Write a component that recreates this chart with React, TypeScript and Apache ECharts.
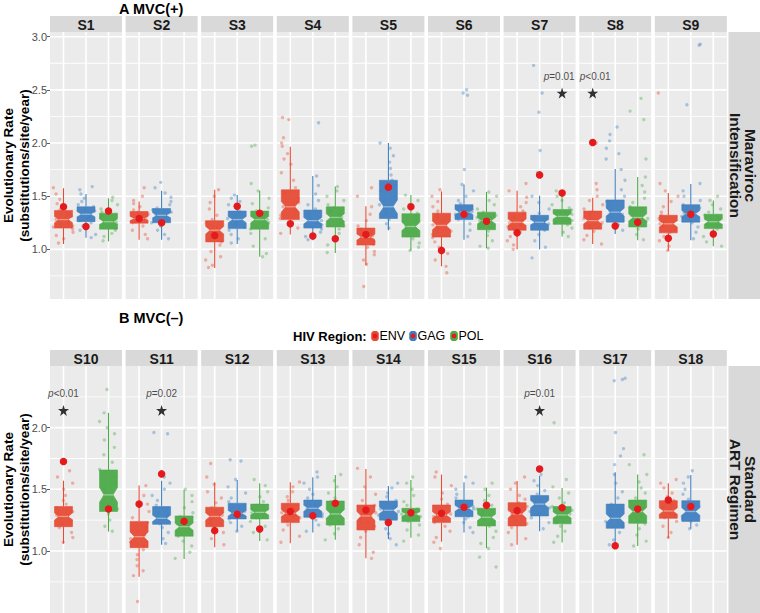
import React, { useEffect, useRef } from "react";
import * as echarts from "echarts";

const SUBJECTS = ["S1","S2","S3","S4","S5","S6","S7","S8","S9","S10","S11","S12","S13","S14","S15","S16","S17","S18"];
const REGIONS = ["ENV", "GAG", "POL"];
const ROW_TITLES = ["A MVC(+)", "B MVC(\u2013)"];
const ROW_STRIPS = ["Maraviroc\nIntensification", "Standard\nART Regimen"];
const Y_TITLE = "Evolutionary Rate\n(substitutions/site/year)";
const LEGEND_TITLE = "HIV Region:";
const TICKS_A = [1.0, 1.5, 2.0, 2.5, 3.0];
const MINOR_A = [0.75, 1.25, 1.75, 2.25, 2.75];
const TICKS_B = [1.0, 1.5, 2.0];
const MINOR_B = [0.75, 1.25, 1.75, 2.25];
const SAMPLE_N = 80;

// box stats: [lower whisker, Q1, median, Q3, upper whisker]
const BOX_ENV = [
  [1.05, 1.20, 1.28, 1.366, 1.575], [1.09, 1.246, 1.29, 1.356, 1.45], [0.825, 1.07, 1.18, 1.27, 1.56],
  [1.14, 1.28, 1.40, 1.56, 1.965], [0.85, 1.04, 1.115, 1.20, 1.405], [0.84, 1.115, 1.225, 1.34, 1.545],
  [1.0, 1.18, 1.255, 1.35, 1.55], [1.05, 1.19, 1.27, 1.36, 1.485], [0.99, 1.155, 1.24, 1.32, 1.53],
  [1.06, 1.197, 1.28, 1.36, 1.57], [0.79, 1.027, 1.116, 1.24, 1.53], [1.03, 1.197, 1.28, 1.355, 1.557],
  [1.062, 1.23, 1.306, 1.387, 1.557], [0.94, 1.17, 1.284, 1.373, 1.665], [1.075, 1.23, 1.292, 1.373, 1.62],
  [1.05, 1.203, 1.30, 1.392, 1.568], null, [1.103, 1.265, 1.324, 1.408, 1.55],
];
const BOX_GAG = [
  [1.11, 1.26, 1.33, 1.40, 1.52], [1.09, 1.25, 1.32, 1.384, 1.55], [1.05, 1.195, 1.28, 1.36, 1.51],
  [1.085, 1.20, 1.27, 1.37, 1.69], [1.18, 1.29, 1.40, 1.65, 2.0], [1.09, 1.28, 1.35, 1.42, 1.61],
  [1.0, 1.18, 1.255, 1.32, 1.505], [1.145, 1.255, 1.35, 1.465, 1.755], [1.085, 1.255, 1.335, 1.42, 1.615],
  null, [1.05, 1.216, 1.265, 1.36, 1.57], [1.157, 1.26, 1.306, 1.387, 1.576],
  [1.15, 1.273, 1.346, 1.413, 1.598], [1.097, 1.25, 1.33, 1.405, 1.527], [1.15, 1.278, 1.346, 1.413, 1.557],
  [1.16, 1.284, 1.38, 1.45, 1.61], [1.05, 1.184, 1.265, 1.38, 1.638], [1.18, 1.24, 1.32, 1.408, 1.616],
];
const BOX_POL = [
  [1.075, 1.19, 1.26, 1.34, 1.48], null, [0.93, 1.19, 1.28, 1.36, 1.55],
  [0.965, 1.21, 1.30, 1.40, 1.59], [0.99, 1.115, 1.215, 1.335, 1.51], [1.01, 1.185, 1.27, 1.35, 1.54],
  [1.12, 1.235, 1.31, 1.375, 1.505], [1.085, 1.21, 1.30, 1.40, 1.68], [1.03, 1.195, 1.26, 1.33, 1.46],
  [1.157, 1.32, 1.455, 1.657, 2.12], [0.935, 1.12, 1.197, 1.284, 1.495], [1.08, 1.26, 1.313, 1.38, 1.55],
  [1.09, 1.21, 1.30, 1.405, 1.616], [1.108, 1.238, 1.30, 1.346, 1.576], [1.022, 1.203, 1.273, 1.346, 1.514],
  [1.068, 1.22, 1.292, 1.36, 1.51], [1.04, 1.224, 1.32, 1.413, 1.62], null,
];

// red dots
const DOT_ENV = [1.40, 1.29, 1.13, 1.24, 1.14, 0.99, 1.155, 2.005, 1.105, 1.725, 1.38, 1.165, 1.32, 1.332, 1.306, 1.327, null, 1.413];
const DOT_GAG = [1.215, 1.25, 1.405, 1.125, 1.585, 1.33, 1.70, 1.22, 1.33, null, 1.625, 1.297, 1.286, 1.23, 1.354, 1.665, 1.043, 1.36];
const DOT_POL = [1.36, null, 1.34, 1.10, 1.40, 1.265, 1.53, 1.255, 1.145, 1.34, 1.24, 1.178, 1.387, 1.31, 1.37, 1.35, 1.34, null];

// individual (jittered) observations
const PTS_ENV = [
  [1.58,1.52,1.47,1.43,1.40,1.37,1.35,1.33,1.31,1.29,1.28,1.26,1.24,1.22,1.21,1.19,1.16,1.13,1.10,1.06],
  [1.58,1.50,1.46,1.43,1.40,1.37,1.35,1.33,1.31,1.29,1.28,1.26,1.25,1.22,1.18,1.14,1.10],
  [1.56,1.50,1.44,1.38,1.32,1.28,1.25,1.22,1.20,1.18,1.15,1.12,1.10,1.07,1.04,0.98,0.93,0.90,0.85,0.83],
  [2.24,2.22,2.05,2.00,1.97,1.90,1.85,1.80,1.72,1.65,1.58,1.53,1.48,1.44,1.40,1.36,1.32,1.29,1.25,1.20,1.15],
  [1.58,1.50,1.40,1.33,1.27,1.22,1.19,1.16,1.13,1.11,1.09,1.07,1.05,1.02,0.98,0.95,0.90,0.86,0.65],
  [1.56,1.50,1.45,1.40,1.36,1.33,1.30,1.26,1.23,1.20,1.17,1.14,1.11,1.07,1.02,0.96,0.90,0.84,0.78],
  [1.62,1.55,1.49,1.44,1.40,1.36,1.33,1.30,1.27,1.25,1.23,1.21,1.19,1.16,1.12,1.08,1.04,1.00],
  [2.00,1.62,1.56,1.50,1.46,1.42,1.38,1.35,1.32,1.29,1.27,1.25,1.22,1.20,1.17,1.13,1.09,1.05],
  [2.47,1.62,1.55,1.50,1.45,1.40,1.35,1.32,1.29,1.26,1.24,1.22,1.19,1.16,1.12,1.08,1.03,0.99],
  [1.65,1.60,1.55,1.50,1.45,1.41,1.38,1.35,1.32,1.29,1.27,1.25,1.22,1.19,1.15,1.11,1.07],
  [1.53,1.45,1.38,1.32,1.27,1.23,1.19,1.16,1.13,1.10,1.07,1.04,1.01,0.97,0.93,0.88,0.84,0.80,0.59],
  [1.71,1.60,1.54,1.48,1.43,1.39,1.35,1.32,1.29,1.27,1.25,1.22,1.19,1.15,1.10,1.05],
  [1.56,1.52,1.48,1.44,1.41,1.38,1.35,1.33,1.31,1.29,1.27,1.24,1.21,1.17,1.12,1.07],
  [1.67,1.60,1.52,1.46,1.41,1.37,1.34,1.31,1.28,1.26,1.23,1.20,1.16,1.11,1.05,0.99,0.94],
  [1.64,1.60,1.53,1.47,1.42,1.38,1.35,1.32,1.30,1.28,1.26,1.23,1.20,1.16,1.11,1.07,1.02],
  [1.60,1.55,1.50,1.45,1.42,1.39,1.36,1.33,1.30,1.28,1.25,1.22,1.19,1.15,1.10,1.05],
  [],
  [1.58,1.55,1.51,1.47,1.44,1.41,1.38,1.35,1.33,1.31,1.29,1.27,1.24,1.20,1.15,1.11],
];
const PTS_GAG = [
  [1.59,1.56,1.52,1.48,1.45,1.42,1.40,1.38,1.36,1.34,1.33,1.31,1.29,1.27,1.25,1.22,1.18,1.14,1.11],
  [1.63,1.58,1.53,1.49,1.45,1.42,1.39,1.37,1.35,1.33,1.31,1.29,1.27,1.25,1.22,1.18,1.14,1.10],
  [1.51,1.48,1.45,1.42,1.39,1.36,1.34,1.31,1.29,1.27,1.25,1.23,1.21,1.18,1.14,1.10,1.06],
  [2.19,1.69,1.60,1.52,1.46,1.42,1.38,1.35,1.32,1.29,1.27,1.25,1.23,1.21,1.19,1.16,1.12,1.09],
  [2.00,1.95,1.88,1.82,1.76,1.70,1.65,1.60,1.55,1.50,1.46,1.42,1.38,1.34,1.31,1.28,1.24,1.20],
  [2.50,2.47,2.45,1.75,1.61,1.55,1.50,1.46,1.43,1.40,1.37,1.35,1.33,1.31,1.28,1.24,1.18,1.12],
  [2.73,2.47,2.29,1.93,1.72,1.50,1.44,1.38,1.34,1.31,1.28,1.26,1.24,1.21,1.18,1.14,1.08,1.02,0.92],
  [2.15,2.08,2.02,1.95,1.90,1.85,1.75,1.65,1.56,1.50,1.45,1.40,1.36,1.33,1.30,1.27,1.23,1.18],
  [2.93,2.92,2.36,1.62,1.55,1.50,1.46,1.42,1.39,1.36,1.34,1.31,1.28,1.25,1.21,1.16,1.10],
  [],
  [1.96,1.95,1.60,1.55,1.50,1.45,1.41,1.37,1.34,1.31,1.28,1.26,1.24,1.22,1.19,1.15,1.10,1.06],
  [1.74,1.73,1.58,1.52,1.47,1.43,1.40,1.37,1.34,1.32,1.30,1.28,1.26,1.23,1.20,1.16],
  [1.64,1.60,1.55,1.50,1.46,1.43,1.40,1.38,1.36,1.34,1.32,1.30,1.28,1.25,1.21,1.16],
  [1.55,1.51,1.47,1.44,1.41,1.38,1.36,1.34,1.32,1.29,1.27,1.25,1.22,1.18,1.14,1.10,1.05],
  [1.60,1.55,1.50,1.46,1.43,1.40,1.38,1.36,1.34,1.32,1.30,1.28,1.26,1.23,1.19,1.15],
  [1.66,1.62,1.57,1.53,1.49,1.46,1.43,1.41,1.39,1.37,1.35,1.32,1.30,1.27,1.23,1.18],
  [2.40,2.39,2.38,1.96,1.83,1.77,1.70,1.62,1.55,1.48,1.43,1.38,1.34,1.30,1.27,1.24,1.20,1.15,1.09,1.05],
  [1.65,1.60,1.55,1.50,1.46,1.42,1.39,1.36,1.34,1.32,1.30,1.28,1.26,1.24,1.21,1.18],
];
const PTS_POL = [
  [1.49,1.46,1.42,1.38,1.35,1.32,1.30,1.28,1.26,1.24,1.22,1.20,1.18,1.15,1.12,1.08],
  [],
  [1.98,1.97,1.62,1.55,1.48,1.43,1.39,1.36,1.33,1.30,1.28,1.25,1.22,1.19,1.15,1.10,1.03,0.96,0.93],
  [1.59,1.55,1.50,1.46,1.42,1.39,1.36,1.33,1.30,1.28,1.25,1.22,1.19,1.15,1.10,1.04,0.97],
  [1.51,1.46,1.42,1.38,1.34,1.31,1.28,1.25,1.22,1.19,1.16,1.13,1.10,1.06,1.02,0.99],
  [1.54,1.50,1.46,1.42,1.38,1.35,1.32,1.30,1.27,1.25,1.22,1.20,1.17,1.13,1.08,1.03,1.01],
  [1.55,1.50,1.46,1.42,1.39,1.37,1.35,1.33,1.31,1.29,1.27,1.25,1.23,1.20,1.16,1.12],
  [2.42,2.30,2.22,1.85,1.68,1.60,1.54,1.48,1.44,1.40,1.36,1.32,1.29,1.26,1.23,1.19,1.14,1.09],
  [1.50,1.46,1.42,1.38,1.35,1.32,1.30,1.28,1.26,1.24,1.22,1.19,1.16,1.12,1.07,1.03],
  [2.31,2.12,2.05,2.00,1.95,1.90,1.84,1.78,1.72,1.66,1.60,1.55,1.50,1.46,1.42,1.38,1.34,1.30,1.25,1.20,1.16],
  [1.50,1.45,1.40,1.35,1.31,1.28,1.25,1.22,1.20,1.18,1.15,1.12,1.08,1.04,0.99,0.94],
  [1.58,1.53,1.48,1.44,1.40,1.37,1.35,1.33,1.31,1.29,1.27,1.24,1.20,1.15,1.09],
  [1.62,1.57,1.52,1.47,1.43,1.40,1.36,1.33,1.30,1.27,1.24,1.21,1.18,1.14,1.09],
  [1.60,1.55,1.50,1.45,1.40,1.37,1.34,1.32,1.30,1.28,1.26,1.24,1.21,1.17,1.13,1.08],
  [1.55,1.50,1.45,1.41,1.37,1.34,1.31,1.28,1.26,1.23,1.20,1.16,1.11,1.06,1.02,0.95,0.87],
  [2.04,1.58,1.52,1.47,1.43,1.39,1.36,1.33,1.30,1.28,1.25,1.23,1.20,1.16,1.12,1.07],
  [1.78,1.70,1.62,1.56,1.51,1.47,1.43,1.40,1.37,1.34,1.31,1.28,1.25,1.22,1.18,1.13,1.08,1.04],
  [],
];

// significance annotations
const SIG_SUBJECT = ["S7", "S8", "S10", "S11", "S16"];
const SIG_REGION = ["POL", "ENV", "ENV", "GAG", "GAG"];
const SIG_Y = [2.47, 2.47, 2.14, 2.14, 2.14];
const SIG_P = ["p=0.01", "p<0.01", "p<0.01", "p=0.02", "p=0.01"];

const COLORS = ["#E64B35", "#3F7FC0", "#4DAA4A"];
const MEDIAN_COLORS = ["#F39A86", "#93B8E0", "#97D093"];
const DOT_COLOR = "#E41A1C";
const PANEL_BG = "#EBEBEB";
const FONT = "'Liberation Sans', Arial, Helvetica, sans-serif";
// small horizontal nudges of the p-value labels so adjacent ones don't collide
const LABEL_NUDGE: Record<string, number> = { S7: -3, S8: 2.5 };

const PANEL_LEFT = 50;
const PANEL_W = 72;
const PANEL_STEP = 75.6;
const X_MIN = 0.4;
const X_MAX = 3.6;
const X_POS = [1, 2, 3];
const MAJOR_W = 1.6;
const MINOR_W = 0.8;
const ROWS = [
  { top: 32, height: 267, yMin: 0.533, yMax: 3.044, ticks: TICKS_A, minor: MINOR_A, stripTop: 16, titleY: 9 },
  { top: 366, height: 247, yMin: 0.497, yMax: 2.5, ticks: TICKS_B, minor: MINOR_B, stripTop: 350, titleY: 318 },
];
const STAR_PATH = "path://M50,0 L61.2,34.5 L97.6,34.5 L68.2,55.9 L79.4,90.5 L50,69.1 L20.6,90.5 L31.8,55.9 L2.4,34.5 L38.8,34.5 Z";

const BOXES = [BOX_ENV, BOX_GAG, BOX_POL];
const DOTS = [DOT_ENV, DOT_GAG, DOT_POL];
const PTS = [PTS_ENV, PTS_GAG, PTS_POL];

function jitterFrac(k: number, r: number, i: number) {
  const s = Math.sin(k * 91.73 + r * 17.31 + i * 5.17) * 43758.5453;
  return s - Math.floor(s);
}

function buildOption() {
  const grid: any[] = [];
  const xAxis: any[] = [];
  const yAxis: any[] = [];
  const series: any[] = [];
  const graphic: any[] = [];

  SUBJECTS.forEach((subj, i) => {
    const row = i < 9 ? 0 : 1;
    const col = i % 9;
    const R = ROWS[row];
    const left = PANEL_LEFT + col * PANEL_STEP;
    grid.push({ left, top: R.top, width: PANEL_W, height: R.height, show: false });
    xAxis.push({ gridIndex: i, type: "value", min: X_MIN, max: X_MAX, show: false });
    yAxis.push({
      gridIndex: i, type: "value", min: R.yMin, max: R.yMax,
      splitLine: { show: false }, axisLine: { show: false },
      axisTick: { show: col === 0, customValues: R.ticks, length: 3, lineStyle: { color: "#333333", width: 0.8 } },
      axisLabel: { show: col === 0, customValues: R.ticks, formatter: (v: number) => v.toFixed(1), color: "#4D4D4D", fontSize: 11, margin: 3, fontFamily: FONT },
    });

    // panel background with its grid lines, positioned through the panel's scales
    series.push({
      type: "custom", xAxisIndex: i, yAxisIndex: i, z: 0.5, silent: true, clip: false,
      data: [[X_MIN, R.yMax, X_MAX, R.yMin]],
      renderItem: (params: any, api: any) => {
        const a = api.coord([api.value(0), api.value(1)]);
        const b = api.coord([api.value(2), api.value(3)]);
        const children: any[] = [
          { type: "rect", shape: { x: a[0], y: a[1], width: b[0] - a[0], height: b[1] - a[1] }, style: { fill: PANEL_BG } },
        ];
        const hLine = (v: number, w: number) => {
          const y = api.coord([X_MIN, v])[1];
          children.push({ type: "rect", shape: { x: a[0], y: y - w / 2, width: b[0] - a[0], height: w }, style: { fill: "#FFFFFF" } });
        };
        R.minor.forEach((v) => hLine(v, MINOR_W));
        R.ticks.forEach((v) => hLine(v, MAJOR_W));
        X_POS.forEach((v) => {
          const x = api.coord([v, R.yMin])[0];
          children.push({ type: "rect", shape: { x: x - MAJOR_W / 2, y: a[1], width: MAJOR_W, height: b[1] - a[1] }, style: { fill: "#FFFFFF" } });
        });
        return { type: "group", children };
      },
    });

    // jitter points
    const jit: any[] = [];
    REGIONS.forEach((_, r) => {
      const arr = PTS[r][i];
      arr.forEach((v, k) => {
        const f = jitterFrac(k, r, i);
        jit.push({ value: [r + 1 + (f - 0.5) * 0.9, v], itemStyle: { color: COLORS[r] } });
      });
    });
    series.push({
      type: "scatter", xAxisIndex: i, yAxisIndex: i, data: jit, symbolSize: 3.4, z: 2, silent: true,
      itemStyle: { opacity: 0.4 },
    });

    // boxes
    const boxData: any[] = [];
    REGIONS.forEach((_, r) => {
      const b = BOXES[r][i];
      if (!b) return;
      const notch = (1.58 * (b[3] - b[1])) / Math.sqrt(SAMPLE_N);
      boxData.push([r + 1, b[0], b[1], b[2], b[3], b[4], notch, r]);
    });
    series.push({
      type: "custom", xAxisIndex: i, yAxisIndex: i, z: 3, silent: true,
      data: boxData,
      encode: { x: 0, y: [1, 5] },
      renderItem: (params: any, api: any) => {
        const x = api.value(0);
        const lo = api.value(1), q1 = api.value(2), med = api.value(3), q3 = api.value(4), hi = api.value(5);
        const nh = api.value(6);
        const r = api.value(7);
        const Y = (v: number) => api.coord([x, v])[1];
        const cx = api.coord([x, med])[0];
        const hw = api.size([0.8, 0])[0] / 2;
        const ind = hw * 0.5;
        const xl = cx - hw, xr = cx + hw;
        const yQ1 = Y(q1), yQ3 = Y(q3), yMed = Y(med), yNU = Y(med + nh), yNL = Y(med - nh);
        const col = COLORS[r];
        return {
          type: "group",
          children: [
            { type: "line", shape: { x1: cx, y1: Y(hi), x2: cx, y2: yQ3 }, style: { stroke: col, lineWidth: 1.1 } },
            { type: "line", shape: { x1: cx, y1: yQ1, x2: cx, y2: Y(lo) }, style: { stroke: col, lineWidth: 1.1 } },
            {
              type: "polygon",
              shape: { points: [[xl, yQ3], [xl, yNU], [xl + ind, yMed], [xl, yNL], [xl, yQ1], [xr, yQ1], [xr, yNL], [xr - ind, yMed], [xr, yNU], [xr, yQ3]] },
              style: { fill: col, stroke: col, lineWidth: 0.6, opacity: 0.95 },
            },
            { type: "line", shape: { x1: xl + ind, y1: yMed, x2: xr - ind, y2: yMed }, style: { stroke: MEDIAN_COLORS[r], lineWidth: 1.3 } },
          ],
        };
      },
    });

    // red dots
    const dotData: any[] = [];
    REGIONS.forEach((_, r) => {
      const d = DOTS[r][i];
      if (d != null) dotData.push([r + 1, d]);
    });
    series.push({
      type: "scatter", xAxisIndex: i, yAxisIndex: i, data: dotData, symbol: "circle", symbolSize: 7.5, z: 4, silent: true,
      itemStyle: { color: DOT_COLOR, opacity: 1 },
    });

    // significance stars
    const sig: any[] = [];
    SIG_SUBJECT.forEach((s, k) => {
      if (s === subj) sig.push({ value: [REGIONS.indexOf(SIG_REGION[k]) + 1, SIG_Y[k]], p: SIG_P[k] });
    });
    if (sig.length) {
      const nudge = LABEL_NUDGE[subj] || 0;
      series.push({
        type: "scatter", xAxisIndex: i, yAxisIndex: i, z: 5, silent: true,
        data: sig.map((s) => ({
          value: s.value,
          label: { formatter: "{i|" + s.p.charAt(0) + "}{n|" + s.p.slice(1) + "}", offset: [nudge, 0] },
        })),
        symbol: STAR_PATH, symbolSize: 11,
        itemStyle: { color: "#000000" },
        label: {
          show: true, position: "top", distance: 6,
          rich: {
            i: { fontStyle: "italic", fontSize: 10, color: "#1A1A1A", fontFamily: FONT },
            n: { fontSize: 10, color: "#1A1A1A", fontFamily: FONT },
          },
        },
      });
    }

    // strip header
    graphic.push({ type: "rect", shape: { x: left, y: R.stripTop, width: PANEL_W, height: R.top - R.stripTop }, style: { fill: "#D9D9D9" }, silent: true });
    graphic.push({
      type: "text", x: left + PANEL_W / 2, y: (R.stripTop + R.top) / 2 + 0.5, silent: true,
      style: { text: subj, fill: "#1A1A1A", font: `bold 14px ${FONT}`, textAlign: "center", textVerticalAlign: "middle" },
    });
  });

  ROWS.forEach((R, row) => {
    // right strips
    graphic.push({ type: "rect", shape: { x: 728.5, y: R.top, width: 40, height: R.height }, style: { fill: "#D9D9D9" }, silent: true });
    graphic.push({
      type: "text", x: 743, y: R.top + R.height / 2, rotation: -Math.PI / 2, silent: true,
      style: { text: ROW_STRIPS[row], fill: "#1A1A1A", font: `bold 15.5px ${FONT}`, textAlign: "center", textVerticalAlign: "middle", lineHeight: 15 },
    });
    // y-axis title
    graphic.push({
      type: "text", x: 16, y: R.top + R.height / 2, rotation: Math.PI / 2, silent: true,
      style: { text: Y_TITLE, fill: "#000000", font: `bold 13.5px ${FONT}`, textAlign: "center", textVerticalAlign: "middle", lineHeight: 16 },
    });
    // row title
    graphic.push({
      type: "text", x: 119, y: R.titleY, silent: true,
      style: { text: ROW_TITLES[row], fill: "#000000", font: `bold 14.5px ${FONT}`, textAlign: "left", textVerticalAlign: "middle" },
    });
  });

  // legend
  const ly = 336;
  graphic.push({
    type: "text", x: 293, y: ly, silent: true,
    style: { text: LEGEND_TITLE, fill: "#000000", font: `bold 13px ${FONT}`, textAlign: "left", textVerticalAlign: "middle" },
  });
  const iconX = [375, 413, 454];
  const textX = [379.5, 417.5, 458.5];
  REGIONS.forEach((reg, r) => {
    const cx = iconX[r];
    graphic.push({
      type: "polygon", silent: true,
      shape: { points: [[cx - 2, ly - 5], [cx + 2, ly - 5], [cx + 3.8, ly - 3], [cx + 3.8, ly + 3], [cx + 2, ly + 5], [cx - 2, ly + 5], [cx - 3.8, ly + 3], [cx - 3.8, ly - 3]] },
      style: { fill: COLORS[r] },
    });
    graphic.push({ type: "circle", silent: true, shape: { cx, cy: ly, r: 2.4 }, style: { fill: DOT_COLOR } });
    graphic.push({
      type: "text", x: textX[r], y: ly, silent: true,
      style: { text: reg, fill: "#000000", font: `12.5px ${FONT}`, textAlign: "left", textVerticalAlign: "middle" },
    });
  });

  return { animation: false, backgroundColor: "#FFFFFF", grid, xAxis, yAxis, series, graphic };
}

export default function App() {
  const ref = useRef<HTMLDivElement>(null);
  useEffect(() => {
    if (!ref.current) return;
    const chart = echarts.init(ref.current, null, { renderer: "svg" });
    chart.setOption(buildOption() as any);
    return () => chart.dispose();
  }, []);
  return <div ref={ref} style={{ position: "fixed", left: 0, top: 0, width: 760, height: 613 }} />;
}
